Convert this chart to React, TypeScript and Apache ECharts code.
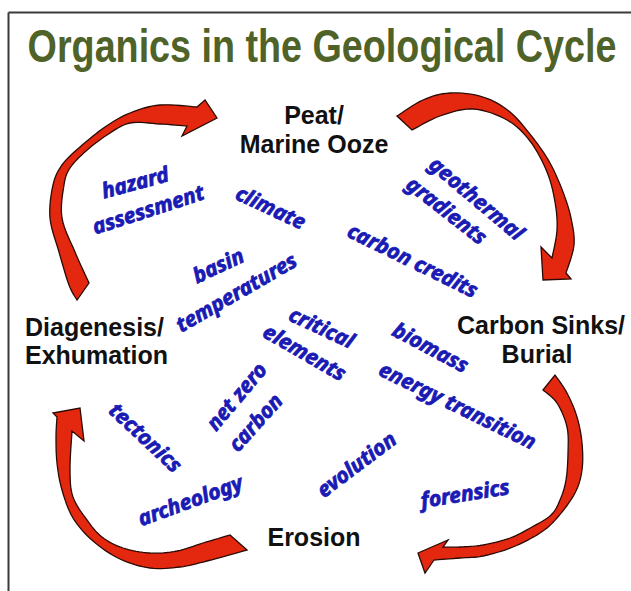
import React, { useEffect, useRef } from "react";
import * as echarts from "echarts";

// ---- content ----
const TITLE = "Organics in the Geological Cycle";
const STAGE_LINES = ["Peat/", "Marine Ooze", "Carbon Sinks/", "Burial", "Erosion", "Diagenesis/", "Exhumation"];
const TOPICS = [
  "hazard", "assessment", "climate", "geothermal", "gradients", "carbon credits",
  "basin", "temperatures", "critical", "elements", "biomass", "energy transition",
  "net zero", "carbon", "tectonics", "archeology", "evolution", "forensics",
];

// ---- layout (positions / angles) ----
const STAGE_POS: [number, number][] = [
  [314, 115], [314, 144], [541, 325], [537, 354], [314, 537], [25, 327], [25, 355],
];
const STAGE_ALIGN = ["center", "center", "center", "center", "center", "left", "left"];
const TOPIC_POS: [number, number, number][] = [
  [135, 182, 15], [148, 209, 18], [271, 207, -25], [477, 198, -40], [447, 210, -38],
  [413, 260, -26], [218, 265, 25], [236, 292, 30], [322, 327, -25], [305, 352, -30],
  [431, 347, -28], [458, 405, -26], [236, 396, 50], [255, 422, 48], [146, 437, -43],
  [190, 500, 20], [356, 464, 37], [465, 493, 9],
];

type P = [number, number];
const ARROWS: { outer: P[]; head: [P, P, P]; inner: P[] }[] = [
  {
    outer: [[77, 300], [69, 285], [59, 252], [50, 218], [53, 185], [62, 165], [80, 147], [105, 127], [130, 113], [160, 105], [197, 107]],
    head: [[205, 100], [217, 118], [182, 136]],
    inner: [[187, 126], [160, 124], [130, 123], [107, 135], [86, 151], [70, 168], [64, 185], [62, 218], [75, 252], [89, 283]],
  },
  {
    outer: [[397, 116], [423, 100], [450, 93], [483, 97], [510, 112], [533, 138], [550, 163], [563, 192], [571, 218], [574, 245], [566, 273]],
    head: [[571, 279], [543, 280], [541, 247]],
    inner: [[552, 258], [557, 230], [555, 202], [547, 172], [530, 141], [507, 120], [473, 109], [440, 116], [412, 130]],
  },
  {
    outer: [[555, 375], [567, 393], [577, 417], [582, 443], [582, 470], [575, 493], [557, 518], [540, 533], [513, 547], [483, 556], [460, 558], [434, 560]],
    head: [[425, 573], [418, 553], [448, 540]],
    inner: [[443, 547], [460, 547], [483, 545], [510, 538], [532, 527], [551, 515], [560, 500], [566, 480], [568, 453], [567, 427], [557, 403], [543, 390]],
  },
  {
    outer: [[247, 550], [207, 561], [180, 567], [150, 568], [120, 559], [93, 541], [73, 518], [62, 490], [57, 463], [56, 437], [57, 417]],
    head: [[53, 413], [80, 408], [84, 441]],
    inner: [[72, 431], [70, 470], [73, 497], [87, 520], [102, 537], [123, 548], [150, 553], [177, 551], [203, 543], [230, 535]],
  },
];

function catmull(pts: P[], seg = 8): P[] {
  const out: P[] = [];
  for (let i = 0; i < pts.length - 1; i++) {
    const p0 = pts[Math.max(i - 1, 0)], p1 = pts[i], p2 = pts[i + 1], p3 = pts[Math.min(i + 2, pts.length - 1)];
    for (let s = 0; s < seg; s++) {
      const t = s / seg, t2 = t * t, t3 = t2 * t;
      const f = (k: number) =>
        0.5 * (2 * p1[k] + (-p0[k] + p2[k]) * t + (2 * p0[k] - 5 * p1[k] + 4 * p2[k] - p3[k]) * t2 + (-p0[k] + 3 * p1[k] - 3 * p2[k] + p3[k]) * t3);
      out.push([f(0), f(1)]);
    }
  }
  out.push(pts[pts.length - 1]);
  return out;
}

export default function App() {
  const ref = useRef<HTMLDivElement>(null);
  useEffect(() => {
    if (!ref.current) return;
    const chart = echarts.init(ref.current, undefined, { renderer: "svg" });
    const elements: any[] = [];
    // frame
    elements.push({ type: "line", shape: { x1: 8.5, y1: 12.5, x2: 640, y2: 12.5 }, style: { stroke: "#3a3a3a", lineWidth: 2 } });
    elements.push({ type: "line", shape: { x1: 8.5, y1: 12.5, x2: 8.5, y2: 600 }, style: { stroke: "#3a3a3a", lineWidth: 2 } });
    // title
    elements.push({
      type: "text", x: 322, y: 46, scaleX: 0.82,
      style: { text: TITLE, x: 0, y: 0, fill: "#4f6228", fontSize: 46, fontWeight: "bold", fontFamily: "Liberation Sans, Arial", align: "center", verticalAlign: "middle" },
    });
    // arrows
    ARROWS.forEach((a) => {
      const pts = [...catmull(a.outer), ...a.head, ...catmull(a.inner)];
      elements.push({
        type: "polygon", shape: { points: pts },
        style: { fill: "#e4280f", stroke: "#2b0a04", lineWidth: 1.3, lineJoin: "miter" },
      });
    });
    // stage labels
    STAGE_LINES.forEach((t, i) => {
      elements.push({
        type: "text", x: STAGE_POS[i][0], y: STAGE_POS[i][1],
        style: { text: t, fill: "#111", fontSize: 25, fontWeight: "bold", fontFamily: "Liberation Sans, Arial", align: STAGE_ALIGN[i], verticalAlign: "middle" },
      });
    });
    // topics
    TOPICS.forEach((t, i) => {
      const [x, y, deg] = TOPIC_POS[i];
      elements.push({
        type: "text", x, y, rotation: (deg * Math.PI) / 180,
        style: {
          text: t, fill: "#1a1ab4", stroke: "#1a1ab4", lineWidth: 0.8,
          fontSize: 21, fontWeight: "bold", fontStyle: "italic", fontFamily: "Noto Sans",
          align: "center", verticalAlign: "middle",
        },
      });
    });
    chart.setOption({ animation: false, backgroundColor: "#ffffff", graphic: { elements } });
    return () => chart.dispose();
  }, []);
  return <div ref={ref} style={{ position: "fixed", left: 0, top: 0, width: 631, height: 591 }} />;
}
